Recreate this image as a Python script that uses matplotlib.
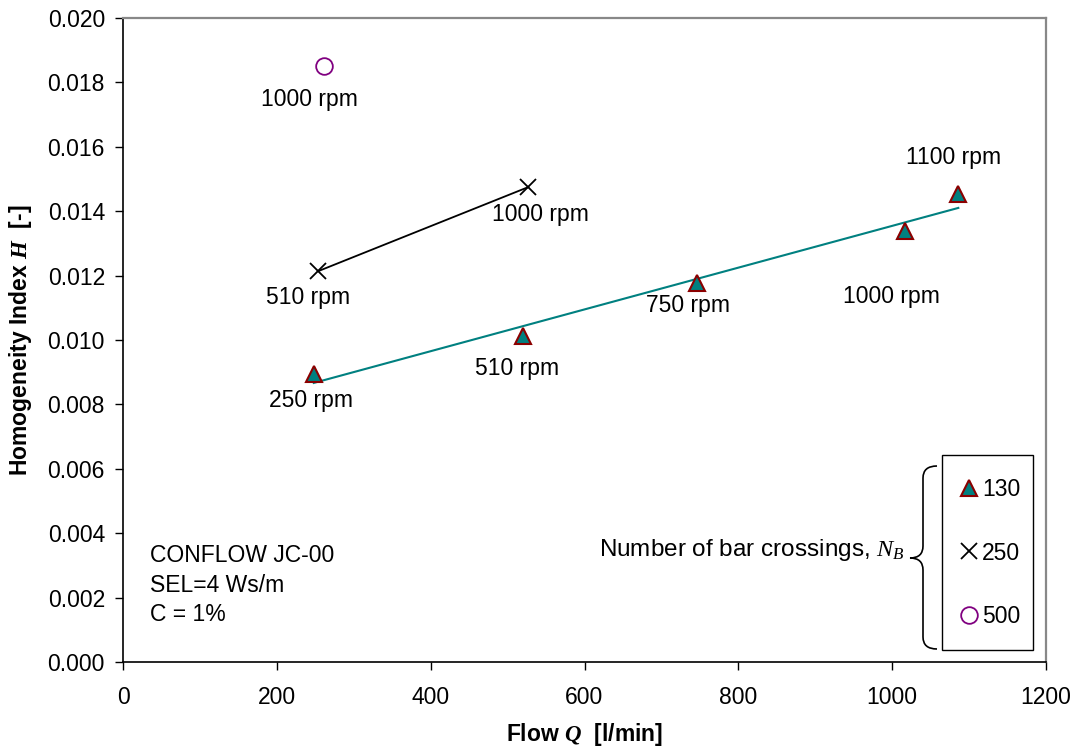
import numpy as np
import matplotlib
matplotlib.use('Agg')
import matplotlib.pyplot as plt
from matplotlib.lines import Line2D
from matplotlib.path import Path
from matplotlib.patches import PathPatch, Rectangle

plt.rcParams['font.family'] = ['Liberation Sans', 'DejaVu Sans']
plt.rcParams['mathtext.fontset'] = 'custom'
plt.rcParams['mathtext.it'] = 'Liberation Serif:italic'
plt.rcParams['mathtext.bfit'] = 'Liberation Serif:italic:bold'
plt.rcParams['mathtext.rm'] = 'Liberation Serif'

# N_B = 130
flow_130 = [248, 520, 746, 1017, 1086]
h_130 = [0.00895, 0.01012, 0.01177, 0.01338, 0.01453]
rpm_130 = ['250 rpm', '510 rpm', '750 rpm', '1000 rpm', '1100 rpm']

# N_B = 250
flow_250 = [254, 527]
h_250 = [0.01214, 0.01475]
rpm_250 = ['510 rpm', '1000 rpm']

# N_B = 500
flow_500 = [261]
h_500 = [0.01851]
rpm_500 = ['1000 rpm']

# label offsets in pixels (dx, dy downwards)
off_130 = [(-3, 27), (-6, 32), (-9, 22), (-14, 65), (-5, -37)]
off_250 = [(-10, 26), (12, 27)]
off_500 = [(-14, 34)]

FS = 16.5
teal = '#008080'
red = '#8B0000'
purple = '#800080'

fig = plt.figure(figsize=(10.75, 7.5), dpi=100)
ax = fig.add_axes([123 / 1075, 88 / 750, 923 / 1075, 644 / 750])

# trend line for 130
coef = np.polyfit(flow_130, h_130, 1)
xs = np.array([min(flow_130), max(flow_130)])
ax.plot(xs, np.polyval(coef, xs), color=teal, lw=1.5, zorder=2)

ax.plot(flow_130, h_130, linestyle='none', marker='^', ms=12, mfc=teal, mec=red, mew=1.5, zorder=3)
ax.plot(flow_250, h_250, color='black', lw=1.3, marker='x', ms=12, mew=1.3, zorder=3)
ax.plot(flow_500, h_500, linestyle='none', marker='o', ms=12, mfc='none', mec=purple, mew=1.3, zorder=3)


def label(xv, yv, texts, offs):
    for x, y, t, (dx, dy) in zip(xv, yv, texts, offs):
        ax.annotate(t, (x, y), xytext=(dx * 0.72, -dy * 0.72), textcoords='offset points',
                    ha='center', va='center', fontsize=FS)


label(flow_130, h_130, rpm_130, off_130)
label(flow_250, h_250, rpm_250, off_250)
label(flow_500, h_500, rpm_500, off_500)

ax.set_xlim(0, 1200)
ax.set_ylim(0, 0.020)
ax.set_xticks(np.arange(0, 1201, 200))
ax.set_yticks(np.arange(0, 0.0201, 0.002))
ax.yaxis.set_major_formatter(matplotlib.ticker.FormatStrFormatter('%.3f'))
ax.tick_params(labelsize=FS, length=6, width=1, direction='out')
ax.tick_params(axis='y', pad=7)
ax.tick_params(axis='x', pad=11)
for s in ['top', 'right']:
    ax.spines[s].set_color('#888888')
    ax.spines[s].set_linewidth(1.6)
for s in ['left', 'bottom']:
    ax.spines[s].set_linewidth(1.2)

ax.set_xlabel(r'Flow $\mathbfit{Q}$  [l/min]', fontsize=FS, fontweight='bold', labelpad=9)
ax.set_ylabel(r'Homogeneity Index $\mathbfit{H}$  [-]', fontsize=FS, fontweight='bold', labelpad=10)

ax.text(35, 0.00365, 'CONFLOW JC-00\nSEL=4 Ws/m\nC = 1%', fontsize=FS, va='top',
        ha='left', linespacing=1.35)

# legend: entries without frame, then a plain box around them
handles = [
    Line2D([], [], linestyle='none', marker='^', ms=12, mfc=teal, mec=red, mew=1.5),
    Line2D([], [], linestyle='none', marker='x', ms=12, mec='black', mew=1.3),
    Line2D([], [], linestyle='none', marker='o', ms=12, mfc='none', mec=purple, mew=1.3),
]
leg = ax.legend(handles, ['130', '250', '500'], loc='center',
                bbox_to_anchor=((990 - 123) / 923, (662 - 553) / 644), fontsize=FS,
                frameon=False, labelspacing=1.75, handlelength=0.8, handletextpad=0.15,
                borderpad=0, borderaxespad=0)
ax.add_patch(Rectangle(((942 - 123) / 923, (662 - 650) / 644), 91 / 923, 195 / 644,
                       transform=ax.transAxes, fill=False, edgecolor='black', lw=1.0, zorder=4))

fig.text(905 / 1075, (750 - 550) / 750, r'Number of bar crossings, $N_B$', fontsize=17.5,
         ha='right', va='center')


# curly brace in figure pixel coordinates (image y downwards)
def fp(x, y):
    return (x / 1075, (750 - y) / 750)


xe, xv, xt = 937, 923, 910
yt, ym, yb = 466, 558, 649
r = 12
verts = [fp(xe, yt), fp(xv, yt), fp(xv, yt + r),
         fp(xv, ym - r),
         fp(xv, ym), fp(xt, ym),
         fp(xv, ym), fp(xv, ym + r),
         fp(xv, yb - r),
         fp(xv, yb), fp(xe, yb)]
codes = [Path.MOVETO, Path.CURVE3, Path.CURVE3, Path.LINETO,
         Path.CURVE3, Path.CURVE3, Path.CURVE3, Path.CURVE3,
         Path.LINETO, Path.CURVE3, Path.CURVE3]
brace = PathPatch(Path(verts, codes), transform=fig.transFigure, fill=False, lw=1.2, edgecolor='black')
fig.patches.append(brace)

fig.savefig('out.png', dpi=100)
